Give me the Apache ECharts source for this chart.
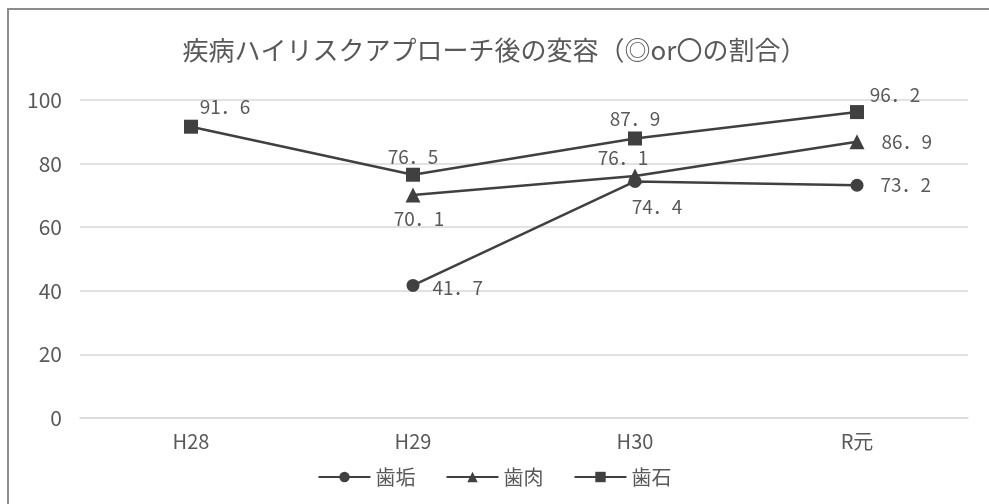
<!DOCTYPE html>
<html>
<head>
<meta charset="utf-8">
<style>
  html, body { margin: 0; padding: 0; background: #fff; }
  #main { width: 989px; height: 504px; }
</style>
<script src="https://cdn.jsdelivr.net/npm/echarts@6/dist/echarts.min.js"></script>
</head>
<body>
<div id="main"></div>
<script>
// 年度
const years = ["H28", "H29", "H30", "R元"];
// ◎or〇の割合 (%)
const shiko = [null, 41.7, 74.4, 73.2];   // 歯垢
const shiniku = [null, 70.1, 76.1, 86.9]; // 歯肉
const shiseki = [91.6, 76.5, 87.9, 96.2]; // 歯石
const yTicks = { min: 0, max: 100, interval: 20 };

const font = "'Noto Sans CJK JP', 'Noto Sans', sans-serif";
const lineColor = "#404040";
const textColor = "#595959";

// per-point label placement
function withLabels(values, places) {
  return values.map((v, i) => {
    if (v == null) return v;
    const p = places[i] || { position: "top" };
    return { value: v, label: { position: p.position, offset: p.offset || [0, 0] } };
  });
}

const chart = echarts.init(document.getElementById("main"));

// 元の表の数値は全角ピリオド
const labelStyle = {
  show: true,
  color: textColor,
  fontSize: 19,
  fontFamily: font,
  formatter: (p) => p.value.toFixed(1).replace(".", "．"),
};

function lineSeries(name, symbol, size, data) {
  return {
    name: name,
    type: "line",
    data: data,
    symbol: symbol,
    symbolSize: size,
    connectNulls: false,
    lineStyle: { color: lineColor, width: 2.5 },
    itemStyle: { color: lineColor },
    label: labelStyle,
    emphasis: { disabled: true },
  };
}

chart.setOption({
  animation: false,
  backgroundColor: "#fff",
  textStyle: { fontFamily: font },
  graphic: [
    {
      type: "rect",
      shape: { x: 8, y: 9, width: 990, height: 510 },
      style: { fill: "none", stroke: "#8c8c8c", lineWidth: 2 },
      silent: true,
    },
  ],
  title: {
    text: "疾病ハイリスクアプローチ後の変容（◎or〇の割合）",
    left: "center",
    top: 32,
    textStyle: { color: textColor, fontSize: 26, fontWeight: "normal", fontFamily: font },
  },
  legend: {
    bottom: 12,
    left: "center",
    itemWidth: 52,
    itemHeight: 13,
    itemGap: 30,
    textStyle: { color: textColor, fontSize: 20, fontFamily: font },
    data: ["歯垢", "歯肉", "歯石"],
  },
  grid: { left: 80, right: 21, top: 100, bottom: 86 },
  xAxis: {
    type: "category",
    data: years,
    boundaryGap: true,
    axisLine: { lineStyle: { color: "#d9d9d9", width: 1.5 } },
    axisTick: { show: false },
    axisLabel: { color: textColor, fontSize: 20, fontFamily: font, margin: 13 },
  },
  yAxis: {
    type: "value",
    min: yTicks.min,
    max: yTicks.max,
    interval: yTicks.interval,
    axisLine: { show: false },
    axisTick: { show: false },
    axisLabel: { color: textColor, fontSize: 21, fontFamily: font, margin: 18 },
    splitLine: { lineStyle: { color: "#d9d9d9", width: 1.5 } },
  },
  series: [
    lineSeries("歯垢", "circle", 13, withLabels(shiko, [
      null,
      { position: "right", offset: [8, 2] },
      { position: "bottom", offset: [22, 4] },
      { position: "right", offset: [12, 0] },
    ])),
    lineSeries("歯肉", "triangle", 15, withLabels(shiniku, [
      null,
      { position: "bottom", offset: [6, 2] },
      { position: "top", offset: [-12, 4] },
      { position: "right", offset: [12, 0] },
    ])),
    lineSeries("歯石", "rect", 14, withLabels(shiseki, [
      { position: "top", offset: [34, 2] },
      { position: "top", offset: [0, 4] },
      { position: "top", offset: [0, 2] },
      { position: "top", offset: [38, 4] },
    ])),
  ],
});
</script>
</body>
</html>
